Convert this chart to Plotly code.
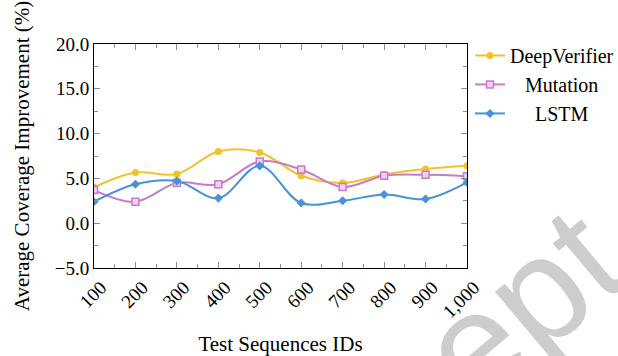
import plotly.graph_objects as go

x_ids = [100, 200, 300, 400, 500, 600, 700, 800, 900, 1000]
x_labels = ["100", "200", "300", "400", "500", "600", "700", "800", "900", "1,000"]
deepverifier = [4.0, 5.65, 5.5, 8.0, 7.9, 5.3, 4.5, 5.45, 6.05, 6.4]
mutation = [3.7, 2.4, 4.5, 4.35, 6.9, 6.0, 4.05, 5.3, 5.4, 5.25]
lstm = [2.4, 4.35, 4.7, 2.8, 6.4, 2.25, 2.5, 3.2, 2.7, 4.55]
y_ticks = [-5, 0, 5, 10, 15, 20]
y_labels = ["\u22125.0", "0.0", "5.0", "10.0", "15.0", "20.0"]

YELLOW = "#f5c12b"
PURPLE = "#c77cc9"
BLUE = "#4793d6"
FONT = "Liberation Serif"
NB = "\u00a0"

fig = go.Figure()
fig.add_trace(go.Scatter(
    x=x_ids, y=deepverifier, name="DeepVerifier", mode="lines+markers",
    line=dict(color=YELLOW, width=2, shape="spline", smoothing=1),
    marker=dict(symbol="circle", size=7, color=YELLOW)))
fig.add_trace(go.Scatter(
    x=x_ids, y=mutation, name=NB * 3 + "Mutation", mode="lines+markers",
    line=dict(color=PURPLE, width=2, shape="spline", smoothing=1),
    marker=dict(symbol="square", size=7, color="#ecd3ec",
                line=dict(color=PURPLE, width=1.5))))
fig.add_trace(go.Scatter(
    x=x_ids, y=lstm, name=NB * 5 + "LSTM", mode="lines+markers",
    line=dict(color=BLUE, width=2, shape="spline", smoothing=1),
    marker=dict(symbol="diamond", size=7, color=BLUE)))

axis_common = dict(
    showline=True, linecolor="black", linewidth=1, mirror="allticks",
    ticks="inside", ticklen=6, tickwidth=1, tickcolor="#8c8c8c",
    showgrid=False, zeroline=False,
    tickfont=dict(family=FONT, size=19, color="black"),
)

fig.update_xaxes(
    range=[100, 1000], tickmode="array", tickvals=x_ids, ticktext=x_labels,
    tickangle=-45, ticklabelshift=7,
    minor=dict(ticks="inside", ticklen=4, tickcolor="#8c8c8c", dtick=50,
               tick0=50, showgrid=False),
    title=dict(text="Test Sequences IDs", font=dict(family=FONT, size=21, color="black"),
               standoff=19),
    **axis_common)
fig.update_yaxes(
    range=[-5, 20], tickmode="array", tickvals=y_ticks, ticktext=y_labels,
    minor=dict(ticks="inside", ticklen=4, tickcolor="#8c8c8c", dtick=2.5,
               tick0=0, showgrid=False),
    title=dict(text="Average Coverage Improvement (%)",
               font=dict(family=FONT, size=21, color="black"), standoff=19),
    **axis_common)

fig.add_annotation(
    text="Concept", xref="paper", yref="paper", x=0.7855, y=-0.669,
    xanchor="center", yanchor="middle", textangle=-40, showarrow=False,
    font=dict(family="Liberation Sans", size=150, color="#cdcdcd"))

fig.update_layout(
    width=618, height=356,
    margin=dict(l=94, r=151, t=44, b=88, autoexpand=False),
    paper_bgcolor="white", plot_bgcolor="white",
    font=dict(family=FONT, size=20, color="black"),
    legend=dict(x=1.008, y=1.036, xanchor="left", yanchor="top",
                xref="paper", yref="paper",
                font=dict(family=FONT, size=20, color="black"),
                bgcolor="rgba(0,0,0,0)", borderwidth=0,
                tracegroupgap=0, itemwidth=30),
)

fig.write_html("out.html")
